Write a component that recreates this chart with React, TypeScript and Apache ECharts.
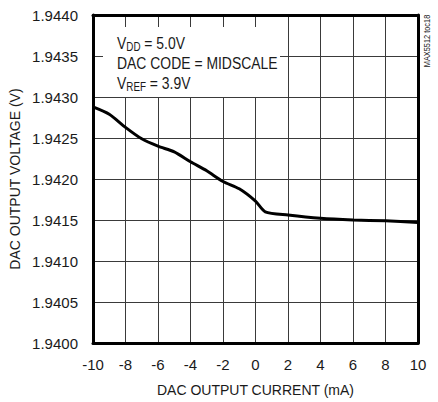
import React, { useEffect, useRef } from "react";
import * as echarts from "echarts";

const currentMA = [-10, -9, -8, -7, -6, -5, -4, -3, -2, -1, 0, 0.6, 2, 4, 6, 8, 10];
const outputV = [1.94288, 1.94279, 1.94263, 1.94249, 1.9424, 1.94233, 1.94221, 1.9421, 1.94197, 1.94188, 1.94173, 1.9416, 1.94156, 1.94152, 1.9415, 1.94149, 1.94147];
const xTicks = { min: -10, max: 10, step: 2 };
const yTicks = { min: 1.94, max: 1.944, step: 0.0005 };
const xTitle = "DAC OUTPUT CURRENT (mA)";
const yTitle = "DAC OUTPUT VOLTAGE (V)";
const noteLines = ["{a|V}{b|DD}{a| = 5.0V}", "{a|DAC CODE = MIDSCALE}", "{a|V}{b|REF}{a| = 3.9V}"];
const tocLabel = "MAX5512 toc18";

const FONT = "'Liberation Sans', Arial, sans-serif";
const INK = "#1a1a1a";

export default function App() {
  const ref = useRef<HTMLDivElement>(null);
  useEffect(() => {
    document.body.style.margin = "0";
    const chart = echarts.init(ref.current!, undefined, { renderer: "svg" });
    const frameLine = { show: true, onZero: false, lineStyle: { color: "#000", width: 3 } };
    const rich = {
      a: { fontSize: 17, fontFamily: FONT, fill: INK, lineHeight: 20 },
      b: { fontSize: 12, fontFamily: FONT, fill: INK, lineHeight: 10, verticalAlign: "bottom" },
    };
    chart.setOption({
      animation: false,
      grid: { left: 93, right: 20, top: 15, bottom: 59 },
      xAxis: [
        {
          type: "value",
          min: xTicks.min,
          max: xTicks.max,
          interval: xTicks.step,
          name: xTitle,
          nameLocation: "middle",
          nameGap: 40,
          nameMoveOverlap: false,
          nameTextStyle: { fontSize: 14, fontFamily: FONT, color: INK },
          axisLine: frameLine,
          axisTick: { show: false },
          axisLabel: { fontSize: 15, fontFamily: FONT, color: INK, margin: 14 },
          splitLine: { show: true, lineStyle: { color: "#3a3a3a", width: 1 } },
        },
        {
          type: "value",
          position: "top",
          min: xTicks.min,
          max: xTicks.max,
          interval: xTicks.step,
          axisLine: frameLine,
          axisTick: { show: false },
          axisLabel: { show: false },
          splitLine: { show: false },
        },
      ],
      yAxis: [
        {
          type: "value",
          min: yTicks.min,
          max: yTicks.max,
          interval: yTicks.step,
          name: yTitle,
          nameLocation: "middle",
          nameGap: 71,
          nameMoveOverlap: false,
          nameTextStyle: { fontSize: 14, fontFamily: FONT, color: INK },
          axisLine: frameLine,
          axisTick: { show: false },
          axisLabel: {
            fontSize: 15,
            fontFamily: FONT,
            color: INK,
            margin: 15,
            formatter: (v: number) => v.toFixed(4),
          },
          splitLine: { show: true, lineStyle: { color: "#3a3a3a", width: 1 } },
        },
        {
          type: "value",
          position: "right",
          min: yTicks.min,
          max: yTicks.max,
          interval: yTicks.step,
          axisLine: frameLine,
          axisTick: { show: false },
          axisLabel: { show: false },
          splitLine: { show: false },
        },
      ],
      series: [
        {
          type: "line",
          xAxisIndex: 0,
          yAxisIndex: 0,
          data: currentMA.map((x, i) => [x, outputV[i]]),
          showSymbol: false,
          symbol: "none",
          smooth: 0.25,
          lineStyle: { color: "#000", width: 3 },
          z: 3,
        },
      ],
      graphic: [
        {
          type: "rect",
          z: 10,
          shape: { x: 103, y: 27, width: 177, height: 70 },
          style: { fill: "#fff" },
        },
        ...noteLines.map((t, i) => ({
          type: "text",
          z: 11,
          x: 117,
          y: 43 + i * 20,
          scaleX: 0.82,
          style: { text: t, rich, verticalAlign: "middle", align: "left", fill: INK },
        })),
        {
          type: "text",
          z: 11,
          x: 427,
          y: 41,
          rotation: Math.PI / 2,
          scaleX: 0.82,
          style: {
            text: tocLabel,
            fontSize: 9,
            fontFamily: FONT,
            fill: INK,
            align: "center",
            verticalAlign: "middle",
          },
        },
      ],
    });
    return () => chart.dispose();
  }, []);
  return <div ref={ref} style={{ width: 438, height: 402 }} />;
}
